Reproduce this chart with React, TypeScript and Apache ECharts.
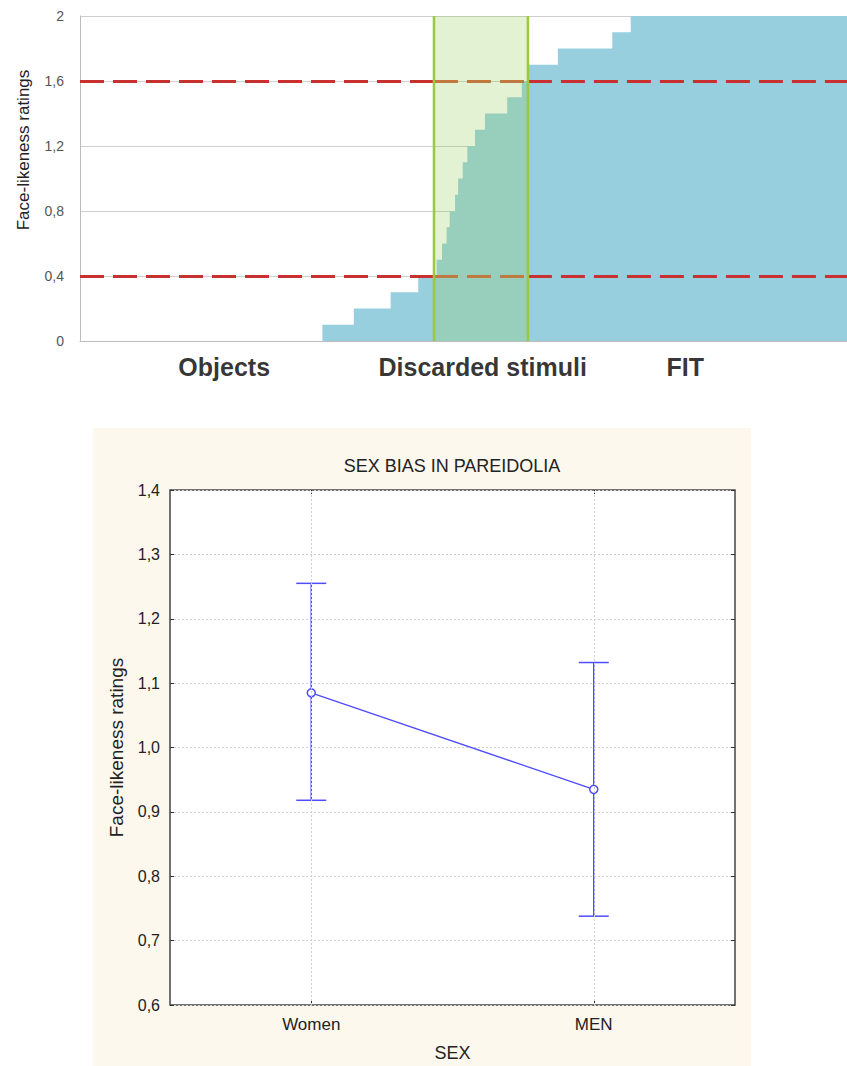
import React, { useEffect, useRef } from "react";
import * as echarts from "echarts";

// ---- Top chart: sorted stimuli (percent rank) vs face-likeness rating ----
const stepStarts = [0, 31.6, 35.7, 40.5, 44.1, 46.5, 47.2, 47.8, 48.2, 48.9, 49.3, 49.9, 50.5, 51.5, 52.8, 55.7, 57.6, 58.4, 62.3, 69.4, 71.8, 100];
const stepRatings = [0, 0.1, 0.2, 0.3, 0.4, 0.5, 0.6, 0.7, 0.8, 0.9, 1.0, 1.1, 1.2, 1.3, 1.4, 1.5, 1.6, 1.7, 1.8, 1.9, 2.0, 2.0];
const discardedBand = [46.15, 58.4];
const thresholds = [0.4, 1.6];
const groupLabels = ["Objects", "Discarded stimuli", "FIT"];
const groupLabelPos = [18.8, 52.5, 78.9];

// ---- Bottom chart: sex bias ----
const sexCategories = ["Women", "MEN"];
const sexMeans = [1.085, 0.935];
const sexUpper = [1.255, 1.132];
const sexLower = [0.918, 0.738];

const comma = (v: number) => String(Number(v.toFixed(1))).replace(".", ",");
const comma1 = (v: number) => v.toFixed(1).replace(".", ",");

export default function App() {
  const ref = useRef<HTMLDivElement>(null);
  useEffect(() => {
    if (!ref.current) return;
    const chart = echarts.init(ref.current, null, { renderer: "svg" });
    const blue = "#97CFDF";
    const errBlue = "#4D4DFF";
    const red = "#C8312F";
    const brown = "#C07A40";
    const sans = "'Liberation Sans', Arial, sans-serif";
    const segs: any[] = [];
    thresholds.forEach((t) => {
      segs.push([{ coord: [0, t], lineStyle: { color: red } }, { coord: [discardedBand[0], t] }]);
      segs.push([{ coord: [discardedBand[0], t], lineStyle: { color: brown } }, { coord: [discardedBand[1], t] }]);
      segs.push([{ coord: [discardedBand[1], t], lineStyle: { color: red } }, { coord: [100, t] }]);
    });
    chart.setOption({
      animation: false,
      textStyle: { fontFamily: sans },
      graphic: [
        {
          type: "rect",
          z: -10,
          shape: { x: 93, y: 428, width: 658, height: 640 },
          style: { fill: "#FCF8EE" },
        },
        {
          type: "text",
          x: 23,
          y: 150,
          rotation: Math.PI / 2,
          style: {
            text: "Face-likeness ratings",
            fontSize: 17,
            fill: "#222",
            align: "center",
            verticalAlign: "middle",
            fontFamily: sans,
          },
        },
        {
          type: "text",
          x: 452,
          y: 466,
          style: {
            text: "SEX BIAS IN PAREIDOLIA",
            fontSize: 18,
            fill: "#222",
            align: "center",
            verticalAlign: "middle",
            fontFamily: sans,
          },
        },
      ],
      grid: [
        { left: 80, top: 16, width: 767, height: 325 },
        {
          left: 170,
          top: 490,
          width: 565,
          height: 515,
          show: true,
          backgroundColor: "#ffffff",
          borderColor: "#444",
          borderWidth: 1.5,
        },
      ],
      xAxis: [
        {
          type: "value",
          gridIndex: 0,
          min: 0,
          max: 100,
          axisLine: { show: true, lineStyle: { color: "#BDBDBD", width: 1 } },
          axisTick: { show: false },
          axisLabel: { show: false },
          splitLine: { show: false },
        },
        {
          type: "category",
          gridIndex: 1,
          data: sexCategories,
          boundaryGap: true,
          name: "SEX",
          nameLocation: "middle",
          nameGap: 39,
          nameTextStyle: { fontSize: 18, color: "#222", fontFamily: sans },
          axisLine: { show: false },
          axisTick: { show: true, inside: true, alignWithLabel: true, length: 4, lineStyle: { color: "#333" } },
          axisLabel: { fontSize: 17, color: "#222", margin: 11, fontFamily: sans },
          splitLine: { show: false },
        },
        {
          type: "category",
          gridIndex: 1,
          position: "top",
          data: sexCategories,
          boundaryGap: true,
          axisLine: { show: false },
          axisTick: { show: true, inside: true, alignWithLabel: true, length: 4, lineStyle: { color: "#333" } },
          axisLabel: { show: false },
          splitLine: { show: false },
        },
      ],
      yAxis: [
        {
          type: "value",
          gridIndex: 0,
          min: 0,
          max: 2,
          interval: 0.4,
          axisLine: { show: true, lineStyle: { color: "#BDBDBD", width: 1 } },
          axisTick: { show: false },
          axisLabel: { formatter: comma, fontSize: 14, color: "#555", margin: 16 },
          splitLine: { show: true, lineStyle: { color: "#CFCFCF", width: 1 } },
        },
        {
          type: "value",
          gridIndex: 1,
          min: 0.6,
          max: 1.4,
          interval: 0.1,
          name: "Face-likeness ratings",
          nameLocation: "middle",
          nameGap: 44,
          nameTextStyle: { fontSize: 19, color: "#222", fontFamily: sans },
          axisLine: { show: false },
          axisTick: { show: true, inside: true, length: 4, lineStyle: { color: "#333" } },
          axisLabel: { formatter: comma1, fontSize: 16, color: "#222", margin: 10, fontFamily: sans },
          splitLine: { show: true, lineStyle: { color: "#D0D0D0", width: 1, type: [2, 2] } },
        },
        {
          type: "value",
          gridIndex: 1,
          position: "right",
          min: 0.6,
          max: 1.4,
          interval: 0.1,
          axisLine: { show: false },
          axisTick: { show: true, inside: true, length: 4, lineStyle: { color: "#333" } },
          axisLabel: { show: false },
          splitLine: { show: false },
        },
      ],
      series: [
        {
          type: "line",
          xAxisIndex: 0,
          yAxisIndex: 0,
          step: "end",
          symbol: "none",
          lineStyle: { width: 0, color: blue },
          areaStyle: { color: blue, opacity: 1 },
          data: stepStarts.map((x, i) => [x, stepRatings[i]]),
          z: 3,
        },
        {
          type: "custom",
          xAxisIndex: 0,
          yAxisIndex: 0,
          z: 4,
          silent: true,
          data: [[discardedBand[0], discardedBand[1]]],
          encode: { x: [0, 1] },
          renderItem: (params: any, api: any) => {
            const a = api.coord([api.value(0), 2]);
            const b = api.coord([api.value(1), 0]);
            return {
              type: "rect",
              shape: { x: a[0], y: a[1], width: b[0] - a[0], height: b[1] - a[1] },
              style: { fill: "rgba(150,205,88,0.26)" },
            };
          },
        },
        {
          type: "line",
          xAxisIndex: 0,
          yAxisIndex: 0,
          data: [],
          z: 5,
          markLine: {
            silent: true,
            symbol: ["none", "none"],
            label: { show: false },
            lineStyle: { color: red, width: 3, type: [24, 9] },
            data: segs,
          },
        },
        {
          type: "custom",
          xAxisIndex: 0,
          yAxisIndex: 0,
          z: 12,
          silent: true,
          data: [[discardedBand[0], discardedBand[1]]],
          encode: { x: [0, 1] },
          renderItem: (params: any, api: any) => {
            const a = api.coord([api.value(0), 2]);
            const b = api.coord([api.value(1), 0]);
            const green = "#9CC83E";
            return {
              type: "group",
              children: [
                { type: "line", shape: { x1: a[0], y1: a[1], x2: a[0], y2: b[1] }, style: { stroke: green, lineWidth: 2.5 } },
                { type: "line", shape: { x1: b[0], y1: a[1], x2: b[0], y2: b[1] }, style: { stroke: green, lineWidth: 2.5 } },
              ],
            };
          },
        },
        {
          type: "scatter",
          xAxisIndex: 0,
          yAxisIndex: 0,
          symbolSize: 1,
          itemStyle: { color: "rgba(0,0,0,0)" },
          silent: true,
          z: 11,
          data: groupLabels.map((n, i) => ({ name: n, value: [groupLabelPos[i], 0] })),
          label: {
            show: true,
            position: "bottom",
            distance: 13,
            formatter: "{b}",
            fontSize: 25,
            fontWeight: "bold",
            color: "#000",
            fontFamily: sans,
          },
        },
        {
          type: "custom",
          xAxisIndex: 1,
          yAxisIndex: 1,
          z: 2,
          data: sexCategories.map((c, i) => [i, sexLower[i], sexUpper[i]]),
          encode: { x: 0, y: [1, 2] },
          renderItem: (params: any, api: any) => {
            const idx = api.value(0);
            const lo = api.coord([idx, api.value(1)]);
            const hi = api.coord([idx, api.value(2)]);
            const hw = 15;
            const st = { stroke: errBlue, lineWidth: 1.5 };
            return {
              type: "group",
              children: [
                { type: "line", shape: { x1: lo[0], y1: lo[1], x2: hi[0], y2: hi[1] }, style: st },
                { type: "line", shape: { x1: hi[0] - hw, y1: hi[1], x2: hi[0] + hw, y2: hi[1] }, style: st },
                { type: "line", shape: { x1: lo[0] - hw, y1: lo[1], x2: lo[0] + hw, y2: lo[1] }, style: st },
              ],
            };
          },
        },
        {
          type: "line",
          xAxisIndex: 1,
          yAxisIndex: 1,
          z: 4,
          data: sexMeans,
          symbol: "circle",
          symbolSize: 8,
          lineStyle: { color: errBlue, width: 1.3 },
          itemStyle: { color: "#ffffff", borderColor: errBlue, borderWidth: 1.5 },
          markLine: {
            silent: true,
            symbol: ["none", "none"],
            label: { show: false },
            lineStyle: { color: "#D0D0D0", width: 1, type: [2, 2] },
            data: sexCategories.map((c) => ({ xAxis: c })),
          },
        },
      ],
    });
    return () => chart.dispose();
  }, []);
  return (
    <div
      ref={ref}
      style={{ position: "absolute", left: 0, top: 0, width: 847, height: 1066 }}
    />
  );
}
